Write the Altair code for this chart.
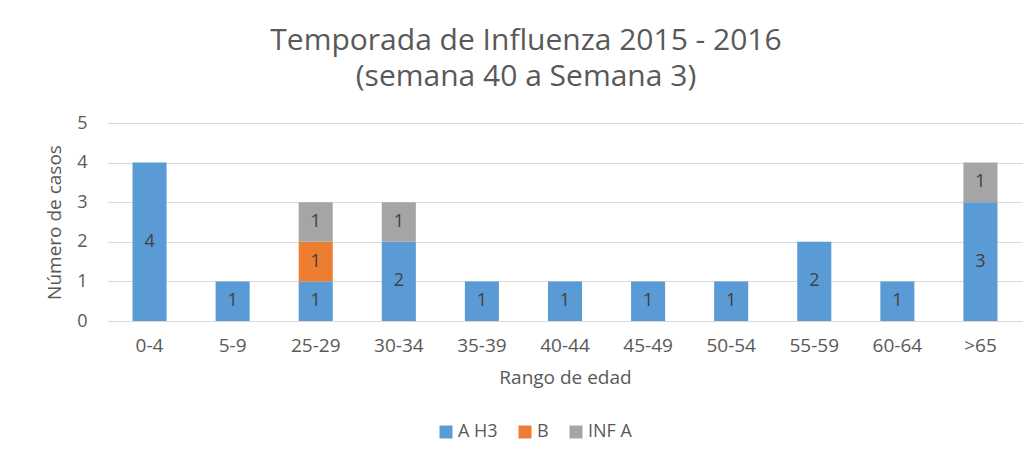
import altair as alt
import pandas as pd

ages = ["0-4", "5-9", "25-29", "30-34", "35-39", "40-44", "45-49", "50-54", "55-59", "60-64", ">65"]
series = ["A H3", "B", "INF A"]
a_h3 = [4, 1, 1, 2, 1, 1, 1, 1, 2, 1, 3]
b_vals = [0, 0, 1, 0, 0, 0, 0, 0, 0, 0, 0]
inf_a = [0, 0, 1, 1, 0, 0, 0, 0, 0, 0, 1]
y_ticks = [0, 1, 2, 3, 4, 5]
colors = ["#5B9BD5", "#ED7D31", "#A5A5A5"]

rows = []
for s_i, (name, vals) in enumerate(zip(series, [a_h3, b_vals, inf_a])):
    for age, v in zip(ages, vals):
        if v > 0:
            rows.append({"age": age, "serie": name, "value": v, "ord": s_i})
df = pd.DataFrame(rows)

FONT = "Open Sans"
TXT = "#595959"

base = alt.Chart(df).transform_stack(
    stack="value", groupby=["age"], sort=[alt.SortField("ord", order="ascending")], as_=["y0", "y1"]
).transform_calculate(mid="(datum.y0 + datum.y1) / 2")

yscale = alt.Scale(domain=[0, 5], nice=False)
xscale = alt.Scale(paddingInner=0.59, paddingOuter=0.295)

x_axis = alt.Axis(labelAngle=0, ticks=False, domain=True, domainColor="#D9D9D9",
                  labelPadding=15, labelFontSize=19, labelColor=TXT,
                  titleFontSize=19, titleColor=TXT, titleFontWeight="normal",
                  titleY=56, titleBaseline="middle")
y_axis = alt.Axis(values=y_ticks, format="d", ticks=False, domain=False,
                  grid=True, gridColor="#D9D9D9", labelPadding=21, labelFontSize=18,
                  labelColor=TXT, labelOverlap=False, titleFontSize=19, titleColor=TXT,
                  titleFontWeight="normal", titleX=-54, titleBaseline="middle")

bars = base.mark_bar().encode(
    x=alt.X("age:N", sort=ages, title="Rango de edad", scale=xscale, axis=x_axis),
    y=alt.Y("y0:Q", title="Número de casos", scale=yscale, axis=y_axis),
    y2="y1:Q",
    color=alt.Color("serie:N", scale=alt.Scale(domain=series, range=colors),
                    legend=alt.Legend(title=None, orient="none", direction="horizontal",
                                      legendX=329, legendY=300, symbolType="square",
                                      symbolSize=169, labelFontSize=18, labelColor=TXT,
                                      columnPadding=18, labelOffset=3, symbolStrokeWidth=0)),
)

labels = base.mark_text(fontSize=18, color="#404040", font=FONT).encode(
    x=alt.X("age:N", sort=ages, title="Rango de edad", scale=xscale, axis=x_axis),
    y=alt.Y("mid:Q", title="Número de casos", scale=yscale, axis=y_axis),
    text=alt.Text("value:Q"),
)

chart = alt.layer(bars, labels).properties(
    width=914, height=198,
    autosize=alt.AutoSizeParams(type="none"),
    padding={"left": 100, "top": 115, "right": 4, "bottom": 120},
    title=alt.Title(["Temporada de  Influenza 2015 - 2016", "(semana 40 a Semana 3)"],
                    fontSize=30, lineHeight=36, offset=22, dx=-39, color=TXT,
                    fontWeight="normal", font=FONT, anchor="middle"),
).configure(font=FONT, background="white").configure_view(stroke=None)

chart.save("out.html", embed_options={"renderer": "svg", "actions": False})
